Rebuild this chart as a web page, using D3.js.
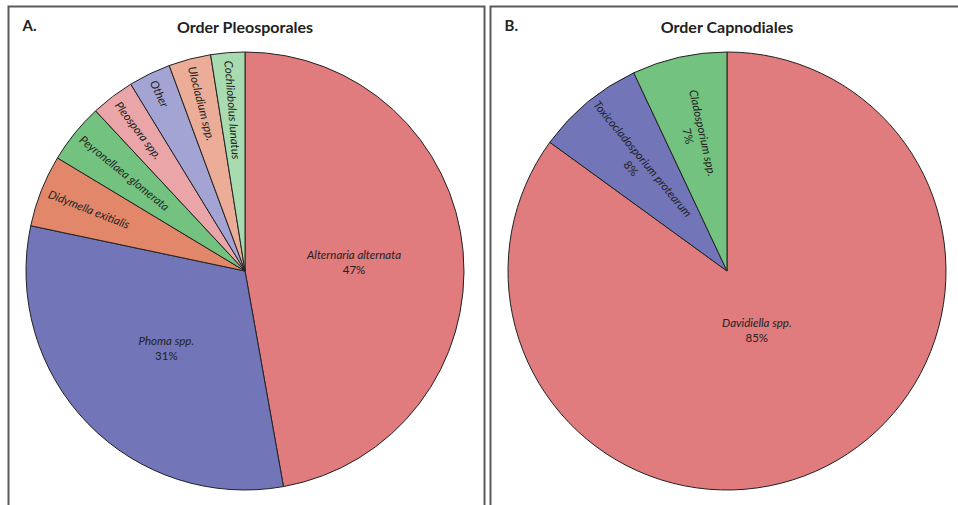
<!DOCTYPE html>
<html>
<head>
<meta charset="utf-8">
<script src="https://cdn.jsdelivr.net/npm/d3@7"></script>
<style>
  body { margin: 0; background: #fff; }
  svg { display: block; }
  text { font-family: Lato, "Open Sans", sans-serif; fill: #222; }
</style>
</head>
<body>
<svg id="chart" width="958" height="505"></svg>
<script>
// Order Pleosporales (panel A)
const pleoNames = ["Alternaria alternata", "Phoma spp.", "Didymella exitialis", "Peyronellaea glomerata",
    "Pleospora spp.", "Other", "Ulocladium spp.", "Cochliobolus lunatus"]
const pleoValues = [47, 31, 5.3, 4.4, 3.2, 3.1, 3.1, 2.5]
const pleoPctLabels = ["47%", "31%", "", "", "", "", "", ""]
const pleoColors = ["#e07b7e", "#7276b9", "#e3876b", "#73c27f", "#eaa5a8", "#a3a4d4", "#ebad97", "#a9dbb0"]

// Order Capnodiales (panel B)
const capNames = ["Davidiella spp.", "Toxicocladosporium protearum", "Cladosporium spp."]
const capValues = [85, 8, 7]
const capPctLabels = ["85%", "8%", "7%"]
const capColors = ["#e07b7e", "#7276b9", "#73c27f"]

const radius = 219
const smallCut = 10   // slices below this share get rotated labels

let svg = d3.select("#chart")

function drawPanel(opts) {
    let g = svg.append("g")

    // panel frame (runs off the bottom / right of the picture)
    g.append("rect")
        .attr("x", opts.frame[0])
        .attr("y", 6.5)
        .attr("width", opts.frame[1] - opts.frame[0])
        .attr("height", 600)
        .attr("fill", "none")
        .attr("stroke", "#5a5a5a")
        .attr("stroke-width", 2)

    g.append("text")
        .attr("x", opts.frame[0] + 14)
        .attr("y", 31)
        .attr("font-size", 15)
        .attr("font-weight", "bold")
        .text(opts.letter)
    g.append("text")
        .attr("x", opts.cx)
        .attr("y", 33)
        .attr("text-anchor", "middle")
        .attr("font-size", 16)
        .attr("font-weight", "bold")
        .text(opts.title)

    let total = d3.sum(opts.values)
    let data = opts.names.map((n, i) => ({name: n, value: opts.values[i], pct: opts.pct[i], color: opts.colors[i]}))
    let arcs = d3.pie().sort(null).value(d => d.value)(data)
    let arc = d3.arc().innerRadius(0).outerRadius(radius)

    let pie = g.append("g").attr("transform", `translate(${opts.cx},${opts.cy})`)
    pie.selectAll("path")
        .data(arcs)
        .join("path")
            .attr("d", arc)
            .attr("fill", d => d.data.color)
            .attr("stroke", "#222")
            .attr("stroke-width", 1)

    for (let d of arcs) {
        let share = d.data.value / total * 100
        let mid = (d.startAngle + d.endAngle) / 2
        let sx = Math.sin(mid), sy = -Math.cos(mid)
        if (share >= smallCut) {
            let r = radius * opts.bigLabelR
            let t = pie.append("text")
                .attr("x", r * sx)
                .attr("y", r * sy)
                .attr("text-anchor", "middle")
                .attr("font-size", 11.5)
            t.append("tspan").attr("x", r * sx).attr("dy", "-0.2em")
                .attr("font-style", "italic").text(d.data.name)
            t.append("tspan").attr("x", r * sx).attr("dy", "1.3em").text(d.data.pct)
        } else {
            // rotated label reading from the rim toward the centre
            let rot = Math.atan2(-sy, -sx) * 180 / Math.PI
            if (d.data.pct === "") {
                let r = radius - 8
                pie.append("text")
                    .attr("transform", `translate(${r * sx},${r * sy}) rotate(${rot})`)
                    .attr("dy", "0.35em")
                    .attr("font-size", 11.5)
                    .attr("font-style", "italic")
                    .text(d.data.name)
            } else {
                let r = radius * 0.64
                let t = pie.append("text")
                    .attr("transform", `translate(${r * sx},${r * sy}) rotate(${rot})`)
                    .attr("text-anchor", "middle")
                    .attr("font-size", 11.5)
                t.append("tspan").attr("x", 0).attr("dy", "-0.2em")
                    .attr("font-style", "italic").text(d.data.name)
                t.append("tspan").attr("x", 0).attr("dy", "1.3em").text(d.data.pct)
            }
        }
    }
}

drawPanel({
    frame: [8.5, 484.5], letter: "A.", title: "Order Pleosporales",
    cx: 245, cy: 271, bigLabelR: 0.5,
    names: pleoNames, values: pleoValues, pct: pleoPctLabels, colors: pleoColors
})
drawPanel({
    frame: [490.5, 1000], letter: "B.", title: "Order Capnodiales",
    cx: 727, cy: 271, bigLabelR: 0.3,
    names: capNames, values: capValues, pct: capPctLabels, colors: capColors
})
</script>
</body>
</html>
